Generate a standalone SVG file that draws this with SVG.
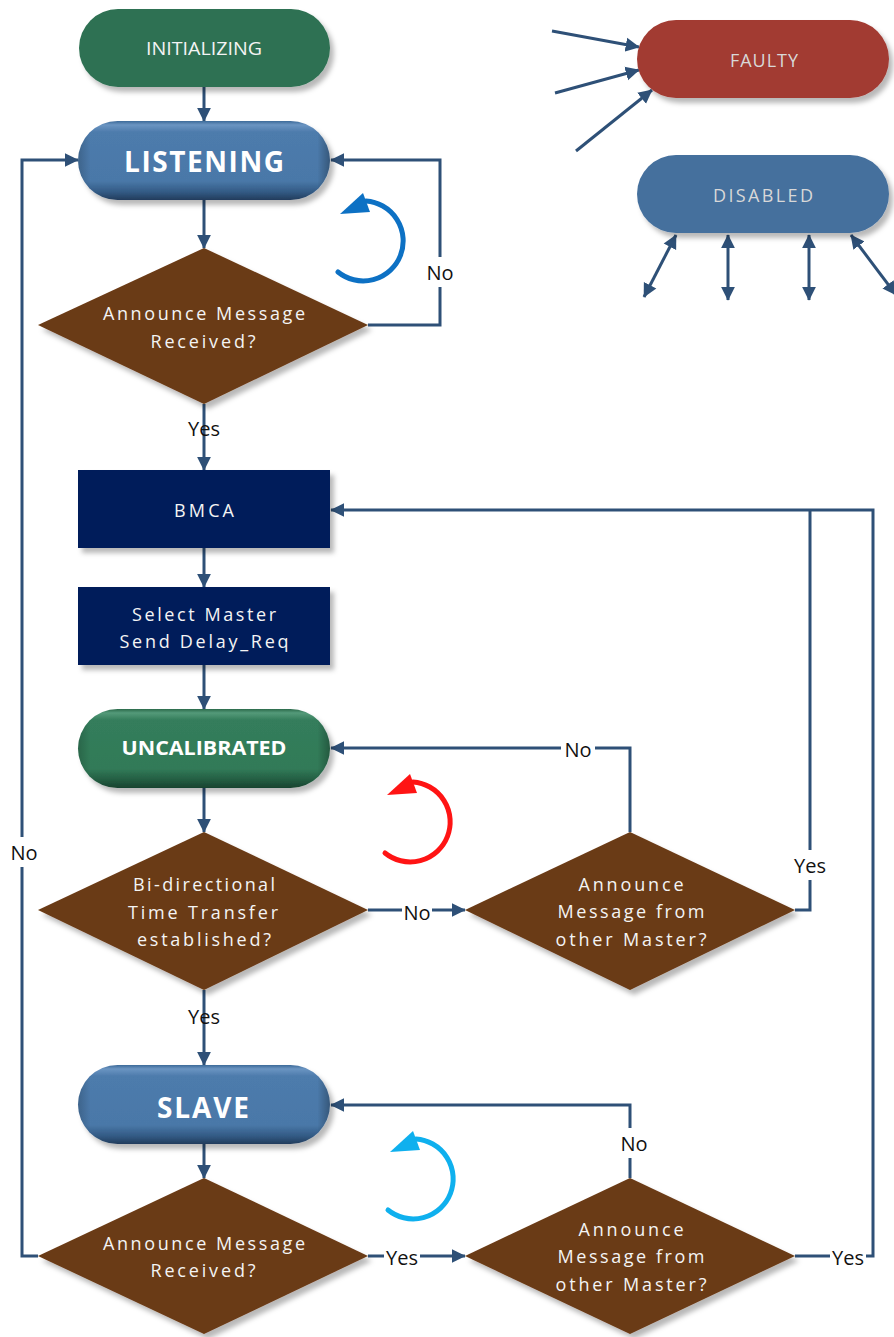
<svg xmlns="http://www.w3.org/2000/svg" width="894" height="1337" viewBox="0 0 894 1337">
  <style>
    .conn { fill: none; stroke: #2e5077; stroke-width: 3; }
    .lbl { font-family: "Open Sans", "Liberation Sans", Arial, sans-serif; font-size: 20px; fill: #111; text-anchor: middle; }
    .mask { fill: #fff; }
    .txt { font-family: "Open Sans", "Liberation Sans", Arial, sans-serif; font-size: 18px; fill: #f4f4f4; text-anchor: middle; }
    .big { font-family: "Open Sans", "Liberation Sans", Arial, sans-serif; font-weight: bold; font-size: 28px; fill: #fff; text-anchor: middle; }
    .mid { font-family: "Open Sans", "Liberation Sans", Arial, sans-serif; font-weight: bold; font-size: 19px; fill: #fff; text-anchor: middle; }
    .pale { fill: #d8d8d8; }
    .diamond { fill: #6b3a15; filter: url(#shadow); }
    .box { fill: #001e5a; filter: url(#shadow); }
    .loop { fill: none; stroke-width: 5; stroke-linecap: round; }
  </style>
  <defs>
    <filter id="shadow" x="-10%" y="-10%" width="125%" height="130%">
      <feDropShadow dx="4" dy="5" stdDeviation="2.5" flood-color="#000" flood-opacity="0.28"/>
    </filter>
    <marker id="ah" viewBox="0 0 10 10" refX="9.5" refY="5" markerWidth="14" markerHeight="15" markerUnits="userSpaceOnUse" orient="auto-start-reverse">
      <path d="M0,0 L10,5 L0,10 z" fill="#2e5077"/>
    </marker>
    <linearGradient id="bevelBlue" x1="0" y1="0" x2="0" y2="1">
      <stop offset="0" stop-color="#3d6a99"/>
      <stop offset="0.05" stop-color="#6b95c2"/>
      <stop offset="0.14" stop-color="#4d7bac"/>
      <stop offset="0.76" stop-color="#4a78a8"/>
      <stop offset="0.9" stop-color="#325a84"/>
      <stop offset="1" stop-color="#223c5c"/>
    </linearGradient>
    <linearGradient id="bevelGreen" x1="0" y1="0" x2="0" y2="1">
      <stop offset="0" stop-color="#2a6a4b"/>
      <stop offset="0.05" stop-color="#549a79"/>
      <stop offset="0.14" stop-color="#347d5b"/>
      <stop offset="0.76" stop-color="#317a58"/>
      <stop offset="0.9" stop-color="#235c41"/>
      <stop offset="1" stop-color="#184330"/>
    </linearGradient>
    <linearGradient id="rimSide" x1="0" y1="0" x2="1" y2="0">
      <stop offset="0" stop-color="#000" stop-opacity="0.18"/>
      <stop offset="0.05" stop-color="#000" stop-opacity="0"/>
      <stop offset="0.95" stop-color="#000" stop-opacity="0"/>
      <stop offset="1" stop-color="#000" stop-opacity="0.28"/>
    </linearGradient>
    <!-- circular "wait" arrow, centred on the origin -->
    <g id="loopArrow">
      <path class="loop" d="M-35,32 A40,40 0 1 0 -7,-39" stroke="currentColor"/>
      <path d="M-33,-26 L-10,-47 L-3,-28 z" fill="currentColor"/>
    </g>
  </defs>

  <rect width="894" height="1337" fill="#fff"/>

  <!-- connectors -->
  <g id="connectors">
    <line class="conn" x1="204" y1="87" x2="204" y2="121" marker-end="url(#ah)"/>
    <line class="conn" x1="204" y1="200" x2="204" y2="248" marker-end="url(#ah)"/>
    <polyline class="conn" points="368,325 440,325 440,160 331,160" marker-end="url(#ah)"/>
    <line class="conn" x1="204" y1="404" x2="204" y2="470" marker-end="url(#ah)"/>
    <line class="conn" x1="204" y1="548" x2="204" y2="587" marker-end="url(#ah)"/>
    <line class="conn" x1="204" y1="665" x2="204" y2="709" marker-end="url(#ah)"/>
    <line class="conn" x1="204" y1="788" x2="204" y2="832" marker-end="url(#ah)"/>
    <line class="conn" x1="368" y1="910" x2="465" y2="910" marker-end="url(#ah)"/>
    <polyline class="conn" points="630,832 630,748 331,748" marker-end="url(#ah)"/>
    <polyline class="conn" points="795,910 810,910 810,510"/>
    <polyline class="conn" points="795,1256 873,1256 873,510 331,510" marker-end="url(#ah)"/>
    <line class="conn" x1="204" y1="990" x2="204" y2="1065" marker-end="url(#ah)"/>
    <line class="conn" x1="204" y1="1144" x2="204" y2="1178" marker-end="url(#ah)"/>
    <polyline class="conn" points="630,1178 630,1105 331,1105" marker-end="url(#ah)"/>
    <line class="conn" x1="368" y1="1256" x2="465" y2="1256" marker-end="url(#ah)"/>
    <polyline class="conn" points="38,1256 22,1256 22,160 78,160" marker-end="url(#ah)"/>

    <!-- transitions into FAULTY -->
    <line class="conn" x1="552" y1="31" x2="639" y2="47" marker-end="url(#ah)"/>
    <line class="conn" x1="555" y1="93" x2="639" y2="70" marker-end="url(#ah)"/>
    <line class="conn" x1="576" y1="151" x2="652" y2="90" marker-end="url(#ah)"/>
    <!-- transitions to/from DISABLED -->
    <line class="conn" x1="676" y1="235" x2="644" y2="297" marker-start="url(#ah)" marker-end="url(#ah)"/>
    <line class="conn" x1="728" y1="235" x2="728" y2="300" marker-start="url(#ah)" marker-end="url(#ah)"/>
    <line class="conn" x1="809" y1="235" x2="809" y2="300" marker-start="url(#ah)" marker-end="url(#ah)"/>
    <line class="conn" x1="851" y1="235" x2="896" y2="295" marker-start="url(#ah)" marker-end="url(#ah)"/>

    <!-- labels -->
    <rect class="mask" x="425" y="257" width="30" height="30"/>
    <text class="lbl" x="440" y="280">No</text>
    <text class="lbl" x="204" y="436">Yes</text>
    <rect class="mask" x="402" y="897" width="30" height="28"/>
    <text class="lbl" x="417" y="920">No</text>
    <rect class="mask" x="561" y="735" width="34" height="28"/>
    <text class="lbl" x="578" y="757">No</text>
    <rect class="mask" x="792" y="850" width="36" height="30"/>
    <text class="lbl" x="810" y="873">Yes</text>
    <rect class="mask" x="8" y="837" width="32" height="30"/>
    <text class="lbl" x="24" y="860">No</text>
    <text class="lbl" x="204" y="1024">Yes</text>
    <rect class="mask" x="619" y="1128" width="30" height="30"/>
    <text class="lbl" x="634" y="1151">No</text>
    <rect class="mask" x="384" y="1243" width="36" height="28"/>
    <text class="lbl" x="402" y="1265">Yes</text>
    <rect class="mask" x="830" y="1243" width="36" height="28"/>
    <text class="lbl" x="848" y="1265">Yes</text>
  </g>

  <!-- wait loops -->
  <use href="#loopArrow" x="373" y="240" style="color:#0d71c4"/>
  <use href="#loopArrow" x="420" y="821" style="color:#ff1414"/>
  <use href="#loopArrow" x="423" y="1178" style="color:#0fb0ee"/>

  <g id="initializing">
    <rect x="79" y="9" width="251" height="78" rx="39" fill="#2e7152" filter="url(#shadow)"/>
    <text class="txt" x="204" y="55" font-size="18.5" textLength="116" lengthAdjust="spacingAndGlyphs">INITIALIZING</text>
  </g>

  <g id="listening">
    <rect x="78" y="121" width="252" height="79" rx="39.5" fill="url(#bevelBlue)" filter="url(#shadow)"/>
    <rect x="78" y="121" width="252" height="79" rx="39.5" fill="url(#rimSide)"/>
    <text class="big" x="204" y="172" textLength="160" lengthAdjust="spacing">LISTENING</text>
  </g>

  <g id="announce-received-1">
    <polygon class="diamond" points="204,248 368,325 204,404 38,325"/>
    <text class="txt" x="204" y="320" textLength="202" lengthAdjust="spacing">Announce Message</text>
    <text class="txt" x="203" y="348" textLength="105" lengthAdjust="spacing">Received?</text>
  </g>

  <g id="bmca">
    <rect class="box" x="78" y="470" width="252" height="78"/>
    <text class="txt" x="204" y="517" textLength="60" lengthAdjust="spacing">BMCA</text>
  </g>

  <g id="select-master">
    <rect class="box" x="78" y="587" width="252" height="78"/>
    <text class="txt" x="204" y="621" textLength="144" lengthAdjust="spacing">Select Master</text>
    <text class="txt" x="204" y="648" textLength="169" lengthAdjust="spacing">Send Delay_Req</text>
  </g>

  <g id="uncalibrated">
    <rect x="78" y="709" width="252" height="79" rx="39.5" fill="url(#bevelGreen)" filter="url(#shadow)"/>
    <rect x="78" y="709" width="252" height="79" rx="39.5" fill="url(#rimSide)"/>
    <text class="mid" x="204" y="755" textLength="165" lengthAdjust="spacingAndGlyphs">UNCALIBRATED</text>
  </g>

  <g id="bidirectional">
    <polygon class="diamond" points="204,832 368,910 204,990 38,910"/>
    <text class="txt" x="204" y="891" textLength="142" lengthAdjust="spacing">Bi-directional</text>
    <text class="txt" x="203" y="919" textLength="150" lengthAdjust="spacing">Time Transfer</text>
    <text class="txt" x="204" y="946" textLength="134" lengthAdjust="spacing">established?</text>
  </g>

  <g id="other-master-1">
    <polygon class="diamond" points="630,832 795,910 630,990 465,910"/>
    <text class="txt" x="631" y="891" textLength="105" lengthAdjust="spacing">Announce</text>
    <text class="txt" x="631" y="918" textLength="147" lengthAdjust="spacing">Message from</text>
    <text class="txt" x="631" y="946" textLength="151" lengthAdjust="spacing">other Master?</text>
  </g>

  <g id="slave">
    <rect x="78" y="1065" width="252" height="79" rx="39.5" fill="url(#bevelBlue)" filter="url(#shadow)"/>
    <rect x="78" y="1065" width="252" height="79" rx="39.5" fill="url(#rimSide)"/>
    <text class="big" x="203" y="1118" textLength="92" lengthAdjust="spacing">SLAVE</text>
  </g>

  <g id="announce-received-2">
    <polygon class="diamond" points="204,1178 368,1256 204,1334 38,1256"/>
    <text class="txt" x="204" y="1250" textLength="202" lengthAdjust="spacing">Announce Message</text>
    <text class="txt" x="203" y="1277" textLength="105" lengthAdjust="spacing">Received?</text>
  </g>

  <g id="other-master-2">
    <polygon class="diamond" points="630,1178 795,1256 630,1334 465,1256"/>
    <text class="txt" x="631" y="1236" textLength="105" lengthAdjust="spacing">Announce</text>
    <text class="txt" x="631" y="1263" textLength="147" lengthAdjust="spacing">Message from</text>
    <text class="txt" x="631" y="1291" textLength="151" lengthAdjust="spacing">other Master?</text>
  </g>

  <g id="faulty">
    <rect x="637" y="20" width="252" height="78" rx="39" fill="#a23b33" filter="url(#shadow)"/>
    <text class="txt pale" x="764" y="67" font-size="19" textLength="68" lengthAdjust="spacing">FAULTY</text>
  </g>

  <g id="disabled">
    <rect x="637" y="155" width="252" height="78" rx="39" fill="#45709d" filter="url(#shadow)"/>
    <text class="txt pale" x="763" y="202" font-size="19" textLength="100" lengthAdjust="spacing">DISABLED</text>
  </g>
</svg>
